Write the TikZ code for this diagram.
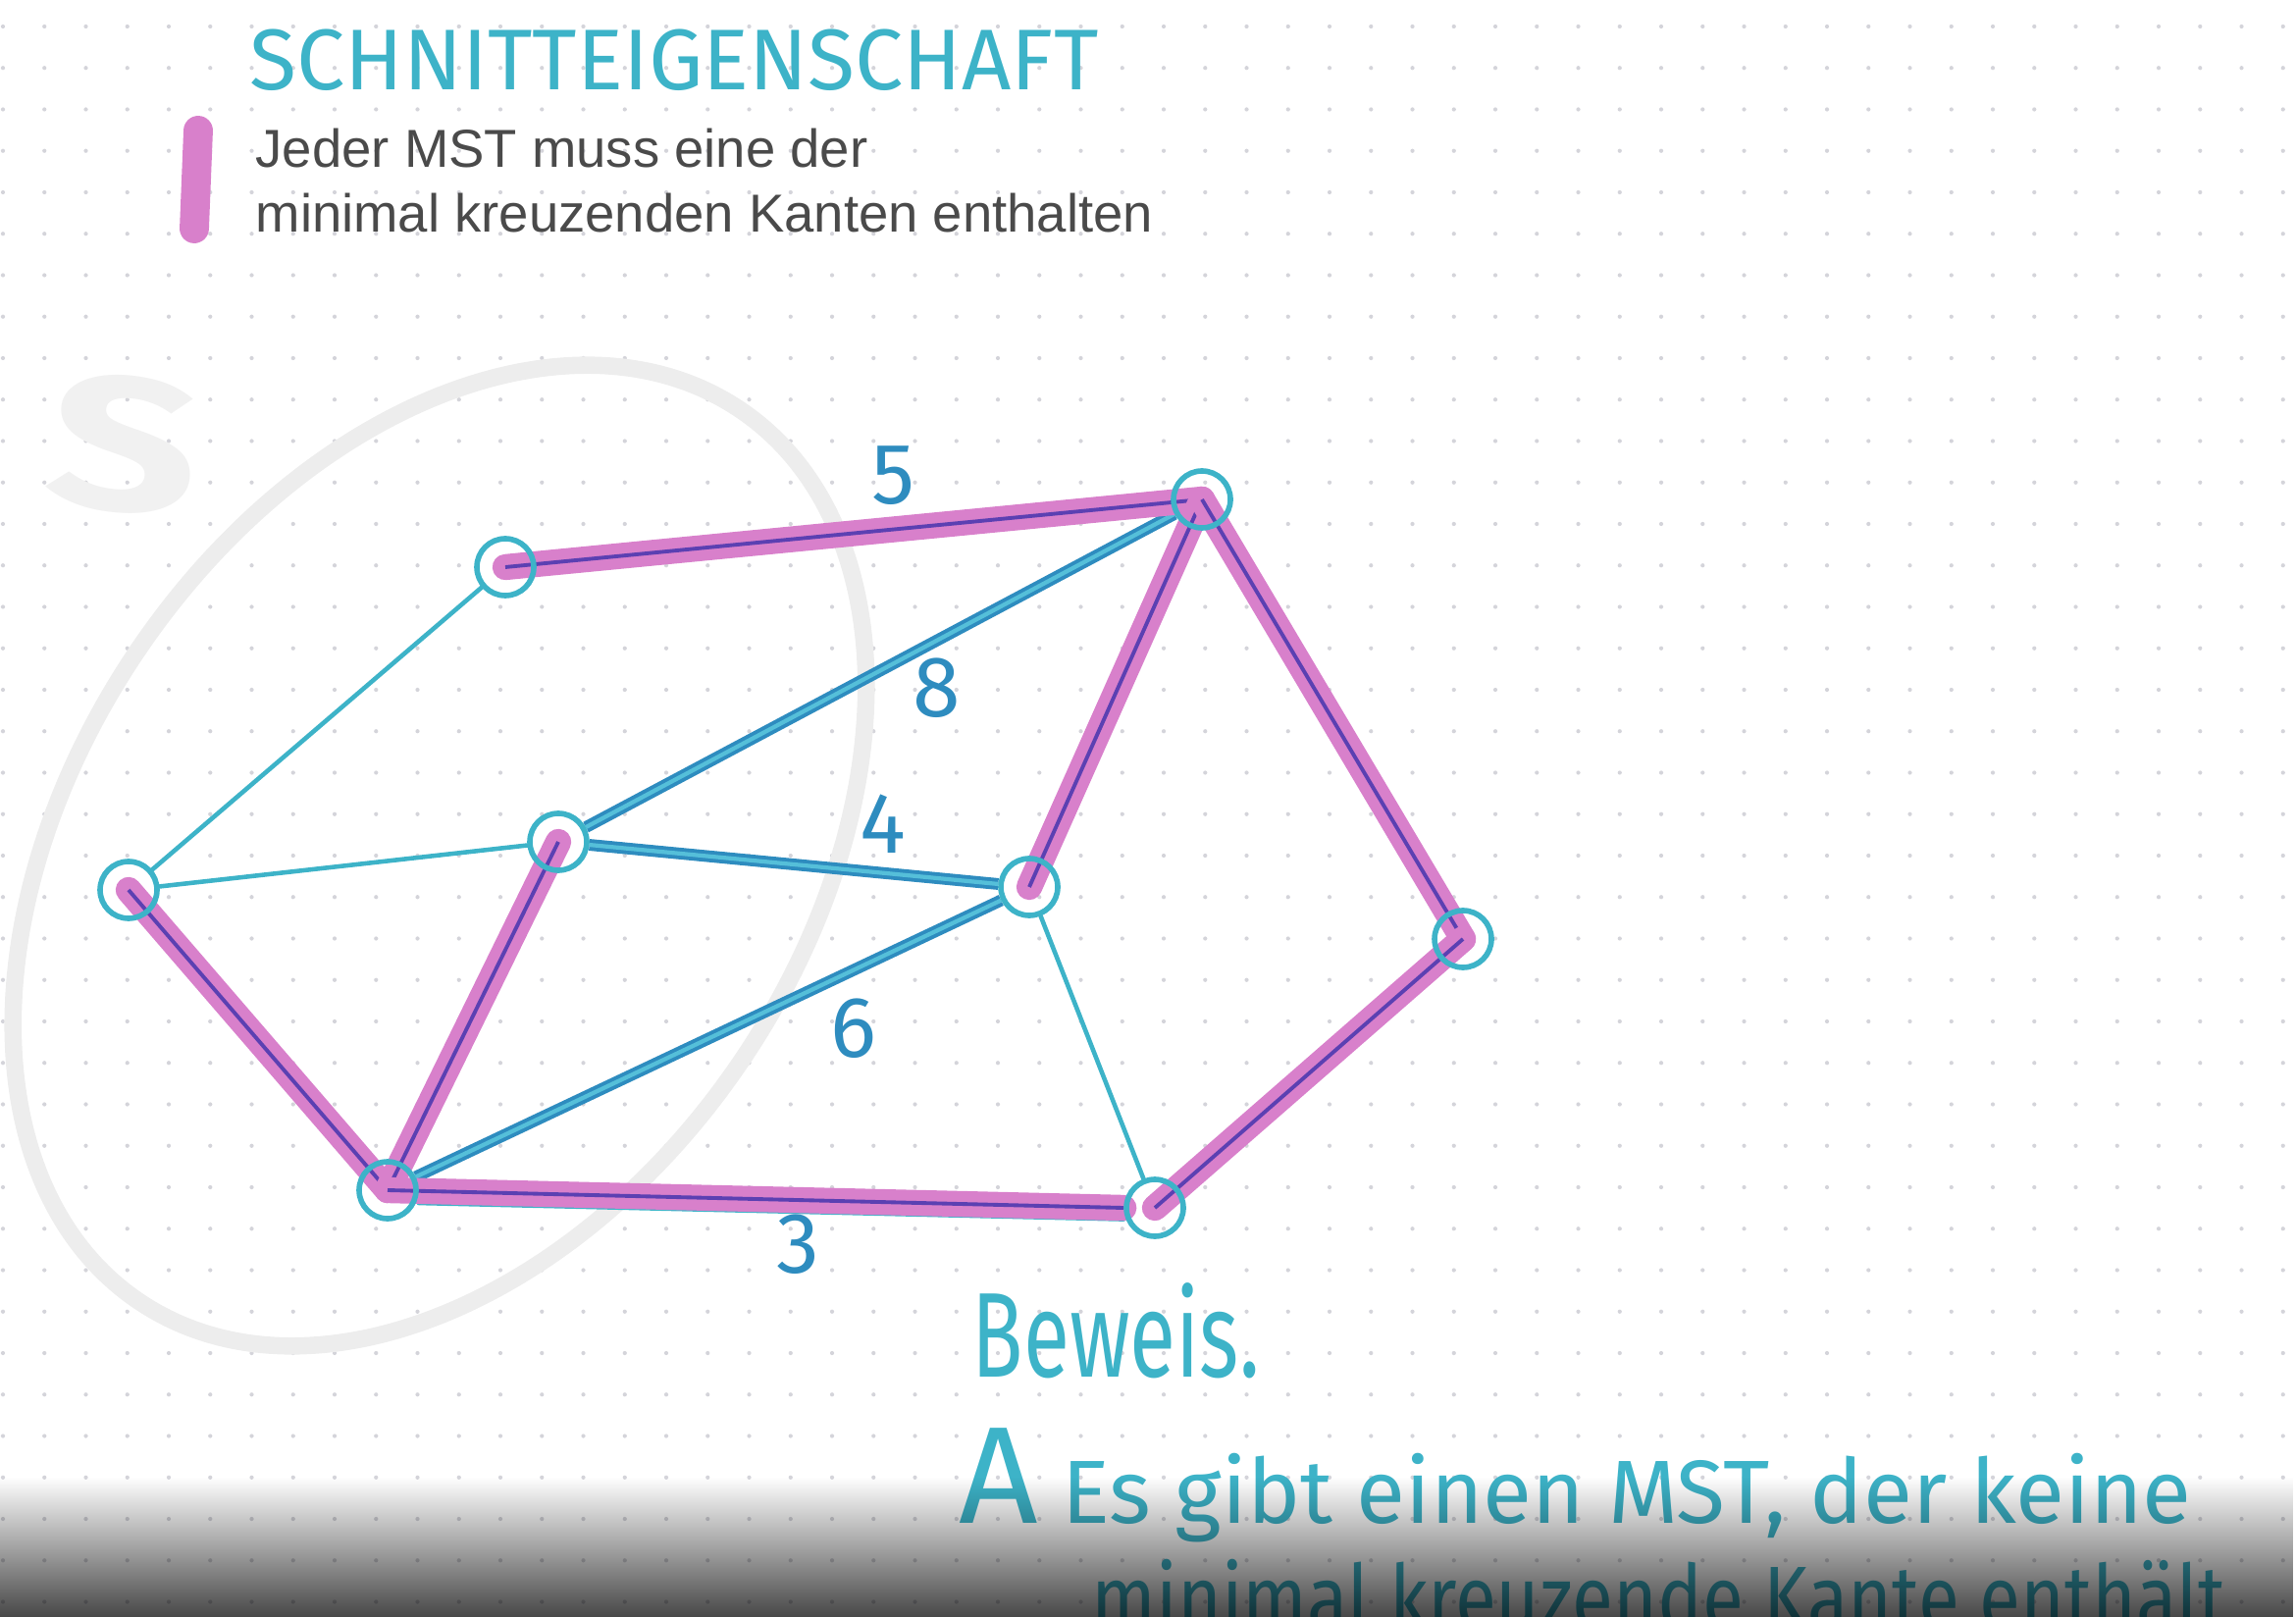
\documentclass[tikz,border=0pt]{standalone}
\usepackage{fontspec}
\setmainfont{Liberation Sans}
\newfontfamily\handfont{Fira Sans}
\usepackage{xcolor}
\usepackage{tikz}
\usetikzlibrary{backgrounds,fadings}
\definecolor{HandCyan}{HTML}{3DB3C8}
\definecolor{MSTPink}{HTML}{D880CB}
\definecolor{HandPurple}{HTML}{5B40B2}
\definecolor{CrossBlue}{HTML}{2E8CBF}
\definecolor{CrossLight}{HTML}{55BFD9}
\definecolor{TextGray}{HTML}{4A4A4A}
\definecolor{DotGray}{HTML}{D4D4DA}
\definecolor{CutGray}{HTML}{EDEDED}
\tikzset{
  knoten/.style={
    circle,
    draw=HandCyan,
    line width=1.6pt,
    minimum size=5.8mm,
    inner sep=0pt
  },
  duenn/.style={draw=HandCyan, line width=1.3pt, line cap=round},
  mst/.style={
    draw=HandPurple,
    line width=1.1pt,
    preaction={draw=MSTPink, line width=7.5pt, line cap=round}
  },
  kreuz/.style={
    draw=CrossBlue,
    line width=1.1pt,
    double=CrossLight,
    double distance=1.2pt
  },
  gewicht/.style={font=\handfont\fontsize{25}{25}\selectfont, text=CrossBlue, inner sep=0pt},
  handschrift/.style={text=HandCyan, inner sep=0pt, anchor=base west}
}

\begin{document}
\begin{tikzpicture}[x=0.1mm, y=-0.1mm]
\useasboundingbox (0,0) rectangle (2340,1648);
\clip (0,0) rectangle (2340,1648);

% Kopf
\node[handschrift, font=\handfont\fontsize{25}{25}\selectfont] (titel) at (254,92) {SCHNITTEIGENSCHAFT};
\draw[MSTPink, line width=8.5pt, line cap=round] (202,133) -- (198,233);
\node[anchor=base west, inner sep=0pt, text=TextGray, font=\fontsize{15.5}{18}\selectfont] (satz1) at (260,171) {Jeder MST muss eine der};
\node[anchor=base west, inner sep=0pt, text=TextGray, font=\fontsize{15.5}{18}\selectfont] (satz2) at (260,237) {minimal kreuzenden Kanten enthalten};

% Knoten
\node[knoten] (a) at (131,907) {};
\node[knoten] (b) at (515,578) {};
\node[knoten] (c) at (569,858) {};
\node[knoten] (d) at (1225,509) {};
\node[knoten] (e) at (1049,904) {};
\node[knoten] (f) at (1491,957) {};
\node[knoten] (g) at (395,1213) {};
\node[knoten] (h) at (1177,1231) {};

% Gewichte
\node[gewicht] (w5) at (910,485) {5};
\node[gewicht] (w8) at (955,701) {8};
\node[gewicht] (w4) at (900,840) {4};
\node[gewicht] (w6) at (870,1048) {6};
\node[gewicht] (w3) at (813,1268) {3};

\begin{scope}[on background layer]
  \foreach \i in {0,...,55}
    \foreach \j in {0,...,38}
      \fill[DotGray] (3+42.25*\i, 27+42.25*\j) circle[radius=0.6pt];
  % Schnitt S
  \draw[CutGray, line width=5pt, rotate around={-34:(448,872)}] (448,872) ellipse [x radius=372, y radius=548];
  \node[font=\handfont\bfseries\fontsize{55}{55}\selectfont, text=CutGray!80!white, rotate=-6] (slabel) at (126,453) {\scalebox{1.4}[1]{S}};
  % duenne Kanten
  \draw[duenn] (a) -- (b);
  \draw[duenn] (a) -- (c);
  \draw[duenn] (e) -- (h);
  % kreuzende Kanten
  \draw[kreuz] (c) -- (d);
  \draw[kreuz] (c) -- (e);
  \draw[kreuz] (e) -- (g);
  % MST
  \draw[mst] (b.center) -- (d.center);
  \draw[mst] (a.center) -- (g.center);
  \draw[mst] (c.center) -- (g.center);
  \draw[mst] (d.center) -- (e.center);
  \draw[mst] (d.center) -- (f.center);
  \draw[mst] (f.center) -- (h.center);
  \draw[duenn, transform canvas={yshift=-3.5pt}] (g) -- (h);
  \draw[mst] (g.center) -- (h.west);
\end{scope}

% Beweis
\node[handschrift, font=\handfont\fontsize{35}{35}\selectfont] (beweis) at (990,1403) {\scalebox{0.7}[1]{Beweis.}};
\node[handschrift, font=\handfont\fontsize{26}{26}\selectfont] (annahme) at (977,1552) {{\fontsize{40}{40}\selectfont A} Es gibt einen MST, der keine};
\node[handschrift, font=\handfont\fontsize{26}{26}\selectfont] (annahme2) at (1112,1660) {\scalebox{0.84}[1]{minimal kreuzende Kante enthält.}};

% Schatten unten
\fill[black, path fading=north, fill opacity=0.72] (0,1505) rectangle (2340,1648);
\end{tikzpicture}
\end{document}
